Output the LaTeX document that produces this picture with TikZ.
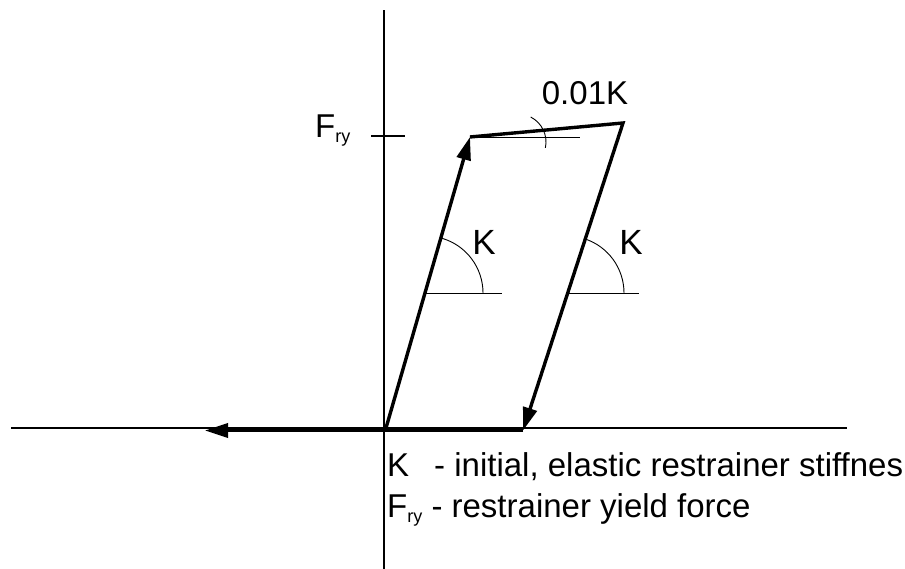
\documentclass[tikz,border=0pt]{standalone}
\usepackage{fontspec}
\setmainfont{Liberation Sans}
\usetikzlibrary{arrows.meta}

\newcommand{\Fry}{F\raisebox{-5pt}{\fontsize{18}{18}\selectfont ry}}

\begin{document}
\begin{tikzpicture}[
  x=1pt, y=1pt,
  axis/.style={line width=1.1pt},
  loading/.style={line width=3.4pt, line join=miter},
  arr/.style={-{Triangle[length=23pt,width=14pt]}, loading},
  angleline/.style={line width=0.9pt},
  lbl/.style={inner sep=0pt, anchor=base, font=\fontsize{33}{40}\selectfont}]
\useasboundingbox (0,0) rectangle (905,569);
% axes
\coordinate (ytop) at (384,559);
\coordinate (ybot) at (384,0);
\coordinate (xleft) at (11,141);
\coordinate (xright) at (847,141);
\draw[axis] (ybot) -- (ytop);
\draw[axis] (xleft) -- (xright);
% hysteresis path
\coordinate (O) at (386,141);
\coordinate (Y) at (470,432);
\coordinate (T) at (623,446);
\coordinate (U) at (523,138.5);
\coordinate (L) at (205,138.5);
\draw[arr] (O) -- (Y);
\draw[arr] (Y) -- (T) -- (U);
\draw[arr] (U) -- (L);
% yield force tick
\coordinate (tk1) at (371,433);
\coordinate (tk2) at (405,433);
\draw[axis] (tk1) -- (tk2);
\node[lbl, anchor=base west] (fry) at (315,431) {\Fry};
% stiffness markers
\coordinate (A1) at (426,276);
\coordinate (A2) at (567,276);
\draw[angleline] (A1) -- ++(76,0);
\draw[angleline] ([xshift=57pt]A1) arc[start angle=0, end angle=73.5, radius=57];
\draw[angleline] (A2) -- ++(72,0);
\draw[angleline] ([xshift=57pt]A2) arc[start angle=0, end angle=72, radius=57];
\node[lbl, font=\fontsize{35}{40}\selectfont] (k1) at (484,314) {K};
\node[lbl, font=\fontsize{35}{40}\selectfont] (k2) at (631,314) {K};
% post-yield marker
\coordinate (A3) at (518,427);
\draw[angleline] (Y) -- ++(110,0);
\draw[angleline] ([shift={(-12:28)}]A3) arc[start angle=-12, end angle=63, radius=28];
\node[lbl] (k3) at (585,464) {0.01K};
% legend
\node[lbl, anchor=base west] (leg1) at (387,92) {K\hspace{25pt}- initial, elastic restrainer stiffnes};
\node[lbl, anchor=base west] (leg2) at (387,51) {\Fry\ - restrainer yield force};
\end{tikzpicture}
\end{document}
